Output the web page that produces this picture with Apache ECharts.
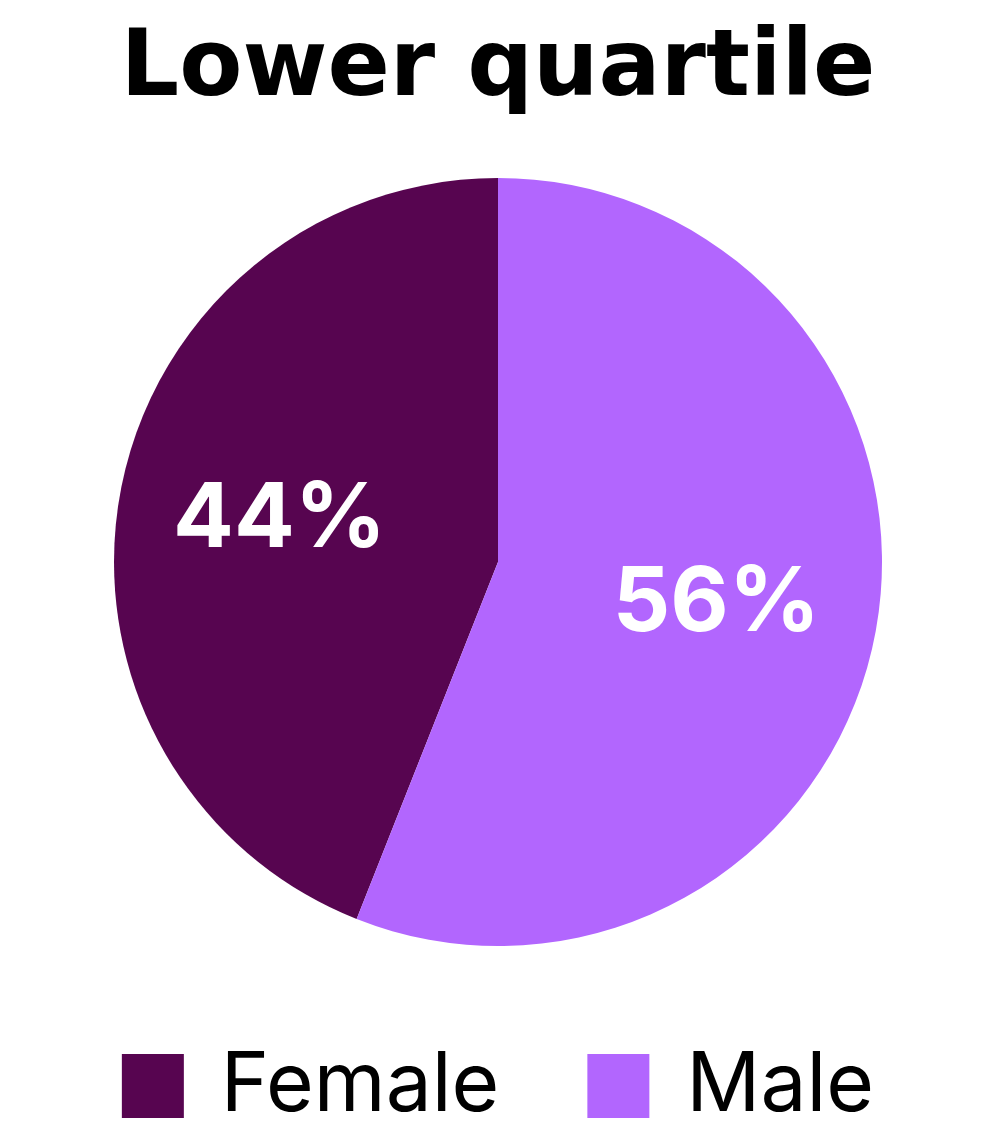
<!DOCTYPE html>
<html><head><meta charset="utf-8">
<style>html,body{margin:0;padding:0;background:#fff}#c{width:996px;height:1146px}</style>
<script src="https://cdn.jsdelivr.net/npm/echarts@6/dist/echarts.min.js"></script>
</head><body><div id="c"></div>
<script>
const title = 'Lower quartile';
const categories = ['Female', 'Male'];
const values = [44, 56];
const colors = ['#570550', '#B266FE'];

const chart = echarts.init(document.getElementById('c'), null, {renderer: 'canvas'});
const cx = 498, cy = 562;
chart.setOption({
  backgroundColor: '#ffffff',
  animation: false,
  title: {
    text: title, left: 'center', top: 11,
    textStyle: {fontFamily: 'DejaVu Sans', fontWeight: 'bold', fontSize: 92, color: '#000', lineHeight: 110}
  },
  legend: {
    data: categories, bottom: 14, left: 'center',
    itemWidth: 62, itemHeight: 64, itemGap: 88, icon: 'rect',
    textStyle: {fontFamily: 'Inter', fontSize: 82, color: '#000', padding: [0, 0, 0, 32]}
  },
  series: [{
    type: 'pie', center: [cx, cy], radius: [0, 384],
    startAngle: 90, clockwise: false,
    data: categories.map((n, i) => ({name: n, value: values[i], itemStyle: {color: colors[i]}})),
    label: {
      show: true, position: 'inside', formatter: '{c}%',
      fontFamily: 'Inter', fontWeight: 700, fontSize: 90, color: '#fff'
    },
    labelLine: {show: false},
    labelLayout: function (p) {
      const r = p.labelRect;
      const lx = r.x + r.width / 2, ly = r.y + r.height / 2;
      return {dx: (lx - cx) * 0.14, dy: (ly - cy) * 0.15};
    },
    emphasis: {disabled: true}
  }]
});
</script></body></html>
